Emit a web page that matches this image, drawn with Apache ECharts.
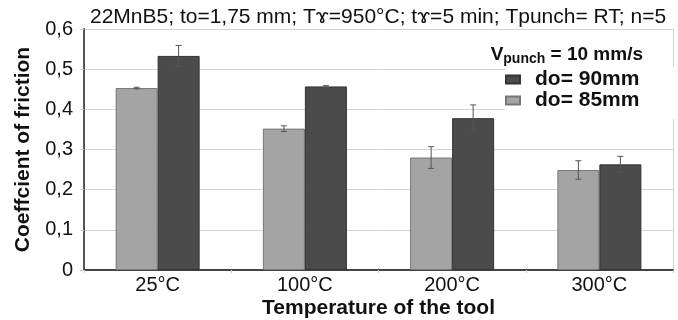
<!DOCTYPE html>
<html>
<head>
<meta charset="utf-8">
<script src="https://cdn.jsdelivr.net/npm/echarts@6/dist/echarts.min.js"></script>
<style>
  html, body { margin: 0; padding: 0; background: #fff; }
  #chart { width: 678px; height: 320px; }
</style>
</head>
<body>
<div id="chart"></div>
<script>
// Tool temperatures on the x axis
const temperatures = ['25°C', '100°C', '200°C', '300°C'];

// Mean coefficient of friction per blank diameter
const cof85 = [0.453, 0.352, 0.280, 0.249];
const cof90 = [0.533, 0.457, 0.378, 0.263];

// Scatter (half-range) of the repeated tests
const err85 = [0.002, 0.007, 0.027, 0.023];
const err90 = [0.026, 0.002, 0.033, 0.020];

const yTicks = [0, 0.1, 0.2, 0.3, 0.4, 0.5, 0.6];

const LIGHT = '#a4a4a4';
const DARK = '#4b4b4b';
const FONT = 'Liberation Sans, Arial, sans-serif';

const chart = echarts.init(document.getElementById('chart'), null, { renderer: 'canvas' });

// Error whisker with caps, shifted onto the bar of the given series
function errorRenderer(values, errs, side) {
  return function (params, api) {
    const i = params.dataIndex;
    const v = values[i], e = errs[i];
    const bw = api.size([1, 0])[0];
    const barW = 42 / 147.25 * bw;
    const center = api.coord([i, v]);
    const x = center[0] + side * barW / 2;
    const top = api.coord([i, v + e])[1];
    const bot = api.coord([i, v - e])[1];
    const cap = 3;
    const style = { stroke: '#555', lineWidth: 1 };
    return {
      type: 'group',
      children: [
        { type: 'line', shape: { x1: x, y1: top, x2: x, y2: bot }, style },
        { type: 'line', shape: { x1: x - cap, y1: top, x2: x + cap, y2: top }, style },
        { type: 'line', shape: { x1: x - cap, y1: bot, x2: x + cap, y2: bot }, style }
      ]
    };
  };
}

chart.setOption({
  animation: false,
  backgroundColor: '#fff',
  textStyle: { fontFamily: FONT },
  title: [
    {
      text: '22MnB5; to=1,75 mm; Tɤ=950°C; tɤ=5 min; Tpunch= RT; n=5',
      left: 85, top: 2,
      textStyle: { fontFamily: FONT, fontSize: 21, fontWeight: 'normal', color: '#111' }
    },
    {
      text: '{b|V}{s|punch}{b| = 10 mm/s}',
      right: 30, top: 37,
      textStyle: {
        rich: {
          b: { fontFamily: FONT, fontSize: 19, fontWeight: 'bold', color: '#111', verticalAlign: 'bottom', lineHeight: 22 },
          s: { fontFamily: FONT, fontSize: 14, fontWeight: 'bold', color: '#111', verticalAlign: 'bottom', lineHeight: 17, padding: [0, 0, -2, 0] }
        }
      }
    }
  ],
  legend: {
    data: ['do= 90mm', 'do= 85mm'],
    orient: 'vertical',
    left: 505, top: 67,
    padding: [2, 40, 8, 0],
    backgroundColor: '#fff',
    itemWidth: 14, itemHeight: 8,
    itemGap: 0,
    textStyle: {
      fontFamily: FONT, fontSize: 21, fontWeight: 'bold', color: '#111',
      lineHeight: 18, padding: [0, 0, 0, 10], backgroundColor: '#fff'
    },
    icon: 'rect',
    z: 10
  },
  grid: { left: 84, right: 5, top: 29, bottom: 50, outerBoundsMode: 'none' },
  xAxis: {
    type: 'category',
    data: temperatures,
    name: 'Temperature of the tool',
    nameLocation: 'middle',
    nameGap: 28,
    nameMoveOverlap: false,
    nameTextStyle: { fontFamily: FONT, fontSize: 21, fontWeight: 'bold', color: '#111' },
    axisLine: { lineStyle: { color: '#444', width: 2 } },
    axisTick: { show: true, length: 3, lineStyle: { color: '#ccc' } },
    axisLabel: { fontFamily: FONT, fontSize: 20, color: '#111', margin: 5 }
  },
  yAxis: {
    type: 'value',
    min: 0, max: 0.6, interval: 0.1,
    name: 'Coeffcient of friction',
    nameLocation: 'middle',
    nameGap: 50,
    nameMoveOverlap: false,
    nameTextStyle: { fontFamily: FONT, fontSize: 21, fontWeight: 'bold', color: '#111' },
    axisLine: { show: true, lineStyle: { color: '#555', width: 2 } },
    axisTick: { show: true, length: 4, lineStyle: { color: '#ccc' } },
    splitLine: { lineStyle: { color: '#d4d4d4', width: 1 } },
    axisLabel: {
      fontFamily: FONT, fontSize: 20, color: '#111', margin: 11,
      formatter: v => (yTicks.includes(+v.toFixed(1)) ? (v === 0 ? '0' : v.toFixed(1).replace('.', ',')) : '')
    }
  },
  graphic: [
    { type: 'line', shape: { x1: 673.5, y1: 29, x2: 673.5, y2: 270 }, style: { stroke: '#d4d4d4', lineWidth: 1 }, z: 0 }
  ],
  series: [
    {
      name: 'do= 85mm', type: 'bar', data: cof85, barWidth: 42, barGap: '0%',
      itemStyle: { color: LIGHT, borderColor: '#777', borderWidth: 1 }
    },
    {
      name: 'do= 90mm', type: 'bar', data: cof90, barWidth: 42, barGap: '0%',
      itemStyle: { color: DARK, borderColor: '#333', borderWidth: 1 }
    },
    {
      type: 'custom', renderItem: errorRenderer(cof85, err85, -1),
      data: cof85.map((v, i) => [i, v]), z: 5, silent: true
    },
    {
      type: 'custom', renderItem: errorRenderer(cof90, err90, 1),
      data: cof90.map((v, i) => [i, v]), z: 5, silent: true
    }
  ]
});
</script>
</body>
</html>
